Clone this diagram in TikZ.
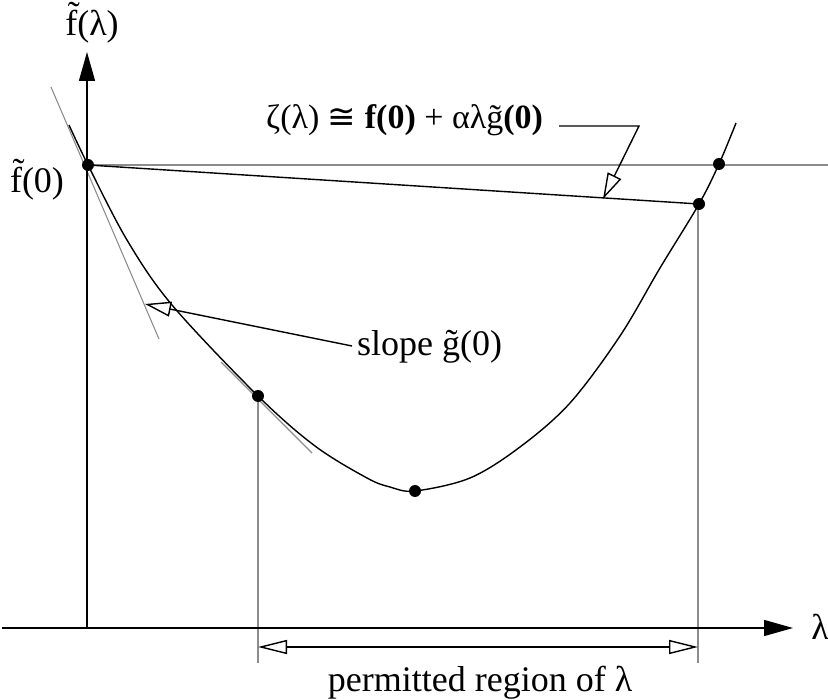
\documentclass[tikz,border=0pt]{standalone}
\usepackage{fontspec}
\setmainfont{Liberation Serif}
\newfontfamily\symfont{DejaVu Sans}
\usetikzlibrary{arrows.meta}
\begin{document}
\begin{tikzpicture}[x=1pt,y=-1pt,
  axis/.style={line width=1.4pt, -{Triangle[length=29pt,width=16pt]}},
  gline/.style={line width=1.1pt, draw=black!45},
  bline/.style={line width=1.4pt},
  openarrow/.style={line width=1.4pt,-{Triangle[open,length=26pt,width=15pt,fill=white]}},
  dbl/.style={line width=1.4pt,{Triangle[open,length=29pt,width=14pt,fill=white]}-{Triangle[open,length=29pt,width=14pt,fill=white]}},
  dot/.style={circle,fill=black,inner sep=0pt,minimum size=12pt},
  lab/.style={font=\fontsize{36}{40}\selectfont, inner sep=0pt}]
\useasboundingbox (0,0) rectangle (828,700);
% axes
\coordinate (O) at (87,628);
\coordinate (Ytop) at (87,52);
\coordinate (Xl) at (2,628);
\coordinate (Xr) at (793,628);
% points
\coordinate (f0) at (88,165);
\coordinate (pa) at (719,164);
\coordinate (pb) at (699,204);
\coordinate (pc) at (258,396);
\coordinate (pm) at (415,491);
% gray construction lines
\coordinate (hr) at (828,165);
\coordinate (t1a) at (51,87);
\coordinate (t1b) at (159,339);
\coordinate (t2a) at (221,362);
\coordinate (t2b) at (312,453);
\coordinate (vl) at (258,663);
\coordinate (vr) at (698,663);
\coordinate (vrt) at (698,204);
\draw[gline] (f0) -- (hr);
\draw[gline] (t1a) -- (t1b);
\draw[gline] (t2a) -- (t2b);
\draw[gline] (pc) -- (vl);
\draw[gline] (vrt) -- (vr);
\draw[axis] (O) -- (Ytop);
\draw[axis] (Xl) -- (Xr);
% curve
\draw[bline] plot[smooth, tension=0.55] coordinates {(69,125) (88,165) (127,240) (172,305) (258,396) (315,446) (367,478) (390,487) (415,491) (470,478) (520,447) (570,403) (620,336) (660,268) (699,204) (719,164) (736,123)};
% chord
\draw[bline] (f0) -- (pb);
% dots
\node[dot] (d0) at (f0) {};
\node[dot] (da) at (pa) {};
\node[dot] (db) at (pb) {};
\node[dot] (dc) at (pc) {};
\node[dot] (dm) at (pm) {};
% permitted region
\coordinate (a1) at (258,647);
\coordinate (a2) at (698,647);
\draw[dbl] (a1) -- (a2);
% labels
\node[lab] (ylab) at (92,23) {f̃(λ)};
\node[lab] (f0lab) at (37,180) {f̃(0)};
\node[lab] (xlab) at (820,627) {λ};
\node[lab, anchor=base] (perm) at (480,691) {permitted region of λ};
\node[lab, anchor=base west, font=\fontsize{34}{38}\selectfont] (zeta) at (266,129) {ζ(λ) {\symfont ≅} \textbf{f(0)} + αλ\mbox{g̃}\textbf{(0)}};
\node[lab, anchor=base west] (slope) at (357,356) {slope g̃(0)};
% leaders
\coordinate (zb) at (639,126);
\coordinate (zt) at (603,199);
\draw[openarrow] ([xshift=16pt]zeta.east |- zb) -- (zb) -- (zt);
\coordinate (st) at (145,304);
\coordinate (ss) at (352,346);
\draw[openarrow] (ss) -- (st);
\end{tikzpicture}
\end{document}
